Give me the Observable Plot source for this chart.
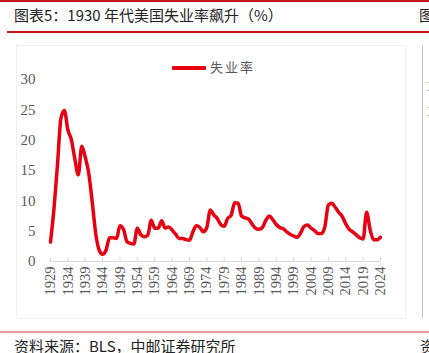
<!DOCTYPE html>
<html>
<head>
<meta charset="utf-8">
<script src="https://cdn.jsdelivr.net/npm/d3@7"></script>
<script src="https://cdn.jsdelivr.net/npm/@observablehq/plot@0.6"></script>
<style>
  html, body { margin: 0; padding: 0; background: #fff; }
  #wrap { position: relative; width: 429px; height: 353px; overflow: hidden; font-family: "Noto Sans CJK SC", sans-serif; }
  .abs { position: absolute; white-space: nowrap; }
  #chart { position: absolute; left: 0; top: 40px; }
</style>
</head>
<body>
<div id="wrap">
  <div class="abs" style="left:0;top:0;width:429px;height:1.5px;background:#c8161d;"></div>
  <div class="abs" style="left:14px;top:4px;font-size:15px;line-height:22px;color:#222;">图表5：1930 年代美国失业率飙升（%）</div>
  <div class="abs" style="left:419px;top:4px;font-size:15px;line-height:22px;color:#222;">图</div>
  <div class="abs" style="left:7px;top:31px;width:422px;height:1.5px;background:#c8161d;"></div>
  <div class="abs" style="left:16px;top:45px;width:390px;height:274px;border:1px solid #efefef;box-sizing:border-box;"></div>
  <div class="abs" style="left:422px;top:46px;width:1px;height:272px;background:#bfbfbf;"></div>
  <div class="abs" style="left:426px;top:78px;font-family:'Liberation Serif',serif;font-size:15px;color:#595959;">15</div>
  <div class="abs" style="left:426px;top:103px;font-family:'Liberation Serif',serif;font-size:15px;color:#595959;">10</div>
  <div id="chart"></div>
  <div class="abs" style="left:172px;top:65.5px;width:34px;height:4px;background:#e60012;border-radius:1px;"></div>
  <div class="abs" style="left:210px;top:58px;font-size:13px;line-height:18px;color:#595959;letter-spacing:2px;">失业率</div>
  <div class="abs" style="left:0;top:331px;width:429px;height:1.5px;background:#e79a9a;"></div>
  <div class="abs" style="left:14px;top:336px;font-size:15px;line-height:20px;color:#222;">资料来源：BLS，中邮证券研究所</div>
  <div class="abs" style="left:420px;top:336px;font-size:15px;line-height:20px;color:#222;">资</div>
</div>
<script>
const years = d3.range(1929, 2025);
const rates = [
  3.2, 8.7, 15.9, 23.6, 24.9, 21.7, 20.1, 16.9, 14.3, 19.0,
  17.2, 14.6, 9.9, 4.7, 1.9, 1.2, 1.9, 3.9, 3.9, 3.8,
  5.9, 5.3, 3.3, 3.0, 2.9, 5.5, 4.4, 4.1, 4.3, 6.8,
  5.5, 5.5, 6.7, 5.5, 5.7, 5.2, 4.5, 3.8, 3.8, 3.6,
  3.5, 4.9, 5.9, 5.6, 4.9, 5.6, 8.5, 7.7, 7.1, 6.1,
  5.8, 7.1, 7.6, 9.7, 9.6, 7.5, 7.2, 7.0, 6.2, 5.5,
  5.3, 5.6, 6.8, 7.5, 6.9, 6.1, 5.6, 5.4, 4.9, 4.5,
  4.2, 4.0, 4.7, 5.8, 6.0, 5.5, 5.1, 4.6, 4.6, 5.8,
  9.3, 9.6, 8.9, 8.1, 7.4, 6.2, 5.3, 4.9, 4.4, 3.9,
  3.7, 8.1, 5.3, 3.6, 3.6, 4.0
];
const xTicks = d3.range(1929, 2025, 5);
const yTicks = [0, 5, 10, 15, 20, 25, 30];
const seriesName = "失业率";

const data = years.map((y, i) => ({year: y, rate: rates[i], series: seriesName}));

const chart = Plot.plot({
  width: 429,
  height: 280,
  marginLeft: 50,
  marginRight: 49,
  marginTop: 39,
  marginBottom: 59,
  style: {background: "transparent", overflow: "visible"},
  x: {domain: [1929, 2024]},
  y: {domain: [0, 30]},
  marks: [
    Plot.ruleY([0], {stroke: "#d9d9d9", strokeWidth: 1}),
    Plot.axisX({
      ticks: xTicks,
      tickFormat: d => String(d),
      tickSize: -4,
      stroke: "#d9d9d9",
      tickRotate: -90,
      tickPadding: 9,
      fontSize: 14.5,
      fontFamily: "'Liberation Serif', 'Times New Roman', serif",
      color: "#595959",
      label: null
    }),
    Plot.axisY({
      ticks: yTicks,
      tickSize: 0,
      tickPadding: 15,
      fontSize: 15,
      fontFamily: "'Liberation Serif', 'Times New Roman', serif",
      color: "#595959",
      label: null
    }),
    Plot.line(data, {x: "year", y: "rate", stroke: "#e60012", strokeWidth: 3.5, curve: "monotone-x", strokeLinejoin: "round", strokeLinecap: "round"})
  ]
});
document.getElementById("chart").appendChild(chart);
</script>
</body>
</html>
